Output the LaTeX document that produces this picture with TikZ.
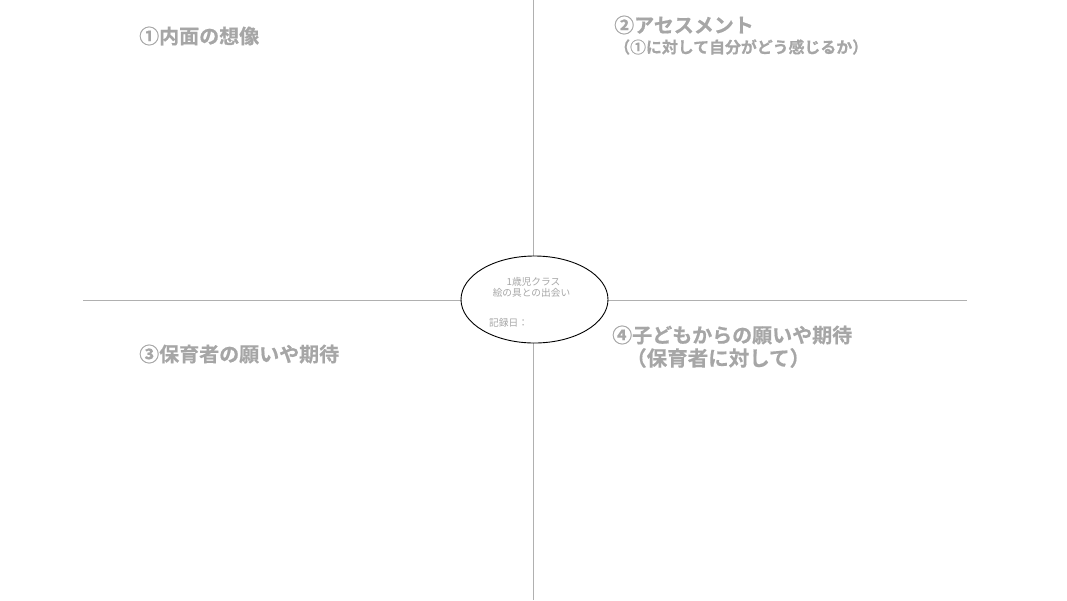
\documentclass[tikz,border=0pt]{standalone}
\usepackage{fontspec}
\usetikzlibrary{shapes.geometric}
\setmainfont{Noto Sans CJK JP}
\newfontfamily\jpb[FakeBold=0.6]{Noto Sans CJK JP Bold}
\definecolor{txtgray}{HTML}{A6A6A6}
\definecolor{linegray}{HTML}{B0B0B0}
\begin{document}
\begin{tikzpicture}[x=1pt,y=-1pt,
  title/.style={anchor=west,inner sep=0pt,text=txtgray,font=\jpb\fontsize{20}{22}\selectfont},
  sub/.style={anchor=west,inner sep=0pt,text=txtgray,font=\jpb\fontsize{15.9}{18}\selectfont},
  small/.style={inner sep=0pt,text=txtgray,font=\fontsize{9.7}{11}\selectfont},
  axis/.style={draw=linegray,line width=0.7pt}]
\useasboundingbox (0,0) rectangle (1067,600);
\coordinate (top) at (533,0);
\coordinate (bot) at (533,600);
\coordinate (lft) at (83,300);
\coordinate (rgt) at (967,300);
\draw[axis] (top) -- (bot);
\draw[axis] (lft) -- (rgt);
\node[draw=black,fill=white,line width=0.9pt,ellipse,minimum width=147pt,minimum height=87pt,inner sep=0pt] (center) at (534.5,299.5) {};
\node[small] (c1) at (533.5,282) {1歳児クラス};
\node[small] (c2) at (531.5,293) {絵の具との出会い};
\node[small,anchor=west] (c3) at (489,323) {記録日：};
\node[title] (q1) at (139,36) {①内面の想像};
\node[title] (q2) at (614,25) {②アセスメント};
\node[sub] (q2b) at (614,47) {（①に対して自分がどう感じるか）};
\node[title] (q3) at (139,354) {③保育者の願いや期待};
\node[title] (q4) at (612,335) {④子どもからの願いや期待};
\node[title,font=\jpb\fontsize{20.5}{22}\selectfont] (q4b) at (626,358) {（保育者に対して）};
\end{tikzpicture}
\end{document}
